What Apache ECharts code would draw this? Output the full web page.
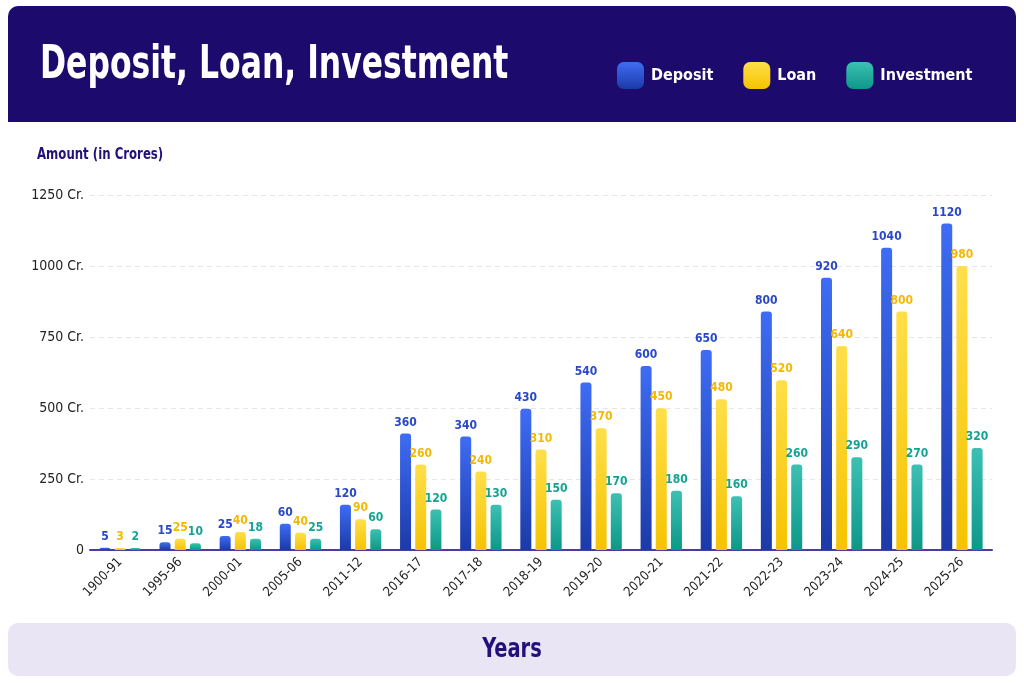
<!DOCTYPE html>
<html>
<head>
<meta charset="utf-8">
<script src="https://cdn.jsdelivr.net/npm/echarts@6/dist/echarts.min.js"></script>
<style>
    html, body { margin: 0; padding: 0; background: #ffffff; }
    #chart { width: 1024px; height: 683px; }
</style>
</head>
<body>
<div id="chart"></div>
<script>
var years = ['1900-91', '1995-96', '2000-01', '2005-06', '2011-12', '2016-17', '2017-18', '2018-19',
    '2019-20', '2020-21', '2021-22', '2022-23', '2023-24', '2024-25', '2025-26'];

// bar heights as drawn in the picture
var depositBars = [8, 27, 49, 92, 159, 410, 400, 497, 590, 648, 704, 840, 959, 1064, 1150];
var loanBars = [7, 40, 63, 61, 108, 301, 276, 354, 429, 499, 531, 598, 718, 840, 1000];
var investmentBars = [7, 24, 40, 40, 73, 143, 159, 177, 200, 209, 189, 301, 327, 301, 359];

// value labels printed above the bars
var depositLabels = [5, 15, 25, 60, 120, 360, 340, 430, 540, 600, 650, 800, 920, 1040, 1120];
var loanLabels = [3, 25, 40, 40, 90, 260, 240, 310, 370, 450, 480, 520, 640, 800, 980];
var investmentLabels = [2, 10, 18, 25, 60, 120, 130, 150, 170, 180, 160, 260, 290, 270, 320];

var yTicks = [0, 250, 500, 750, 1000, 1250];

var font = '"DejaVu Sans Condensed", "Noto Sans", sans-serif';

function grad(top, bottom) {
    return new echarts.graphic.LinearGradient(0, 0, 0, 1, [
        {offset: 0, color: top},
        {offset: 1, color: bottom}
    ]);
}

function makeSeries(name, bars, labels, top, bottom, labelColor) {
    return {
        name: name,
        type: 'bar',
        data: bars,
        barWidth: 11,
        barGap: '38%',
        itemStyle: {
            color: grad(top, bottom),
            borderRadius: [3, 3, 0, 0]
        },
        label: {
            show: true,
            position: 'top',
            distance: 5,
            color: labelColor,
            fontFamily: font,
            fontWeight: 'bold',
            fontSize: 12,
            formatter: function (p) {
                return labels[p.dataIndex];
            }
        }
    };
}

var chart = echarts.init(document.getElementById('chart'));

var option = {
    backgroundColor: '#ffffff',
    animation: false,
    graphic: [
        {
            type: 'rect',
            z: -10,
            shape: {x: 8, y: 6, width: 1008, height: 116, r: [10, 10, 0, 0]},
            style: {fill: '#1c0a6c'}
        },
        {
            type: 'rect',
            z: -10,
            shape: {x: 8, y: 623, width: 1008, height: 53, r: 10},
            style: {fill: '#e9e5f5'}
        },
        {
            type: 'text',
            x: 40,
            y: 66,
            scaleX: 0.76,
            style: {
                text: 'Deposit, Loan, Investment',
                fill: '#ffffff',
                font: 'bold 46px ' + font,
                textAlign: 'left',
                textVerticalAlign: 'middle'
            }
        },
        {
            type: 'text',
            x: 512,
            y: 650,
            scaleX: 0.8,
            style: {
                text: 'Years',
                fill: '#23107a',
                font: 'bold 27px ' + font,
                textAlign: 'center',
                textVerticalAlign: 'middle'
            }
        },
        {
            type: 'text',
            x: 37,
            y: 155,
            scaleX: 0.87,
            style: {
                text: 'Amount (in Crores)',
                fill: '#23107a',
                font: 'bold 15px ' + font,
                textAlign: 'left',
                textVerticalAlign: 'middle'
            }
        }
    ],
    legend: {
        left: 612,
        top: 57,
        itemWidth: 27,
        itemHeight: 27,
        itemGap: 30,
        icon: 'roundRect',
        data: ['Deposit', 'Loan', 'Investment'],
        textStyle: {
            color: '#ffffff',
            fontFamily: font,
            fontWeight: 'bold',
            fontSize: 16,
            padding: [0, 0, 0, 2]
        }
    },
    grid: {
        left: 90,
        right: 32,
        top: 195,
        bottom: 133
    },
    xAxis: {
        type: 'category',
        data: years,
        axisLine: {lineStyle: {color: '#4b3aa8', width: 2}},
        axisTick: {show: false},
        axisLabel: {
            rotate: 45,
            margin: 10,
            interval: 0,
            color: '#222222',
            fontFamily: font,
            fontSize: 13
        }
    },
    yAxis: {
        type: 'value',
        min: yTicks[0],
        max: yTicks[yTicks.length - 1],
        interval: 250,
        axisLine: {show: false},
        axisTick: {show: false},
        axisLabel: {
            margin: 6,
            color: '#222222',
            fontFamily: font,
            fontSize: 14,
            formatter: function (v) {
                return v === 0 ? '0' : v + ' Cr.';
            }
        },
        splitLine: {lineStyle: {color: '#e6e6e6', type: [5, 4]}}
    },
    series: [
        makeSeries('Deposit', depositBars, depositLabels, '#3e6cf4', '#1c3aa8', '#2848c8'),
        makeSeries('Loan', loanBars, loanLabels, '#ffdf4a', '#f5c300', '#f5b800'),
        makeSeries('Investment', investmentBars, investmentLabels, '#3cc0b2', '#0c9888', '#14a393')
    ]
};

chart.setOption(option);
</script>
</body>
</html>
